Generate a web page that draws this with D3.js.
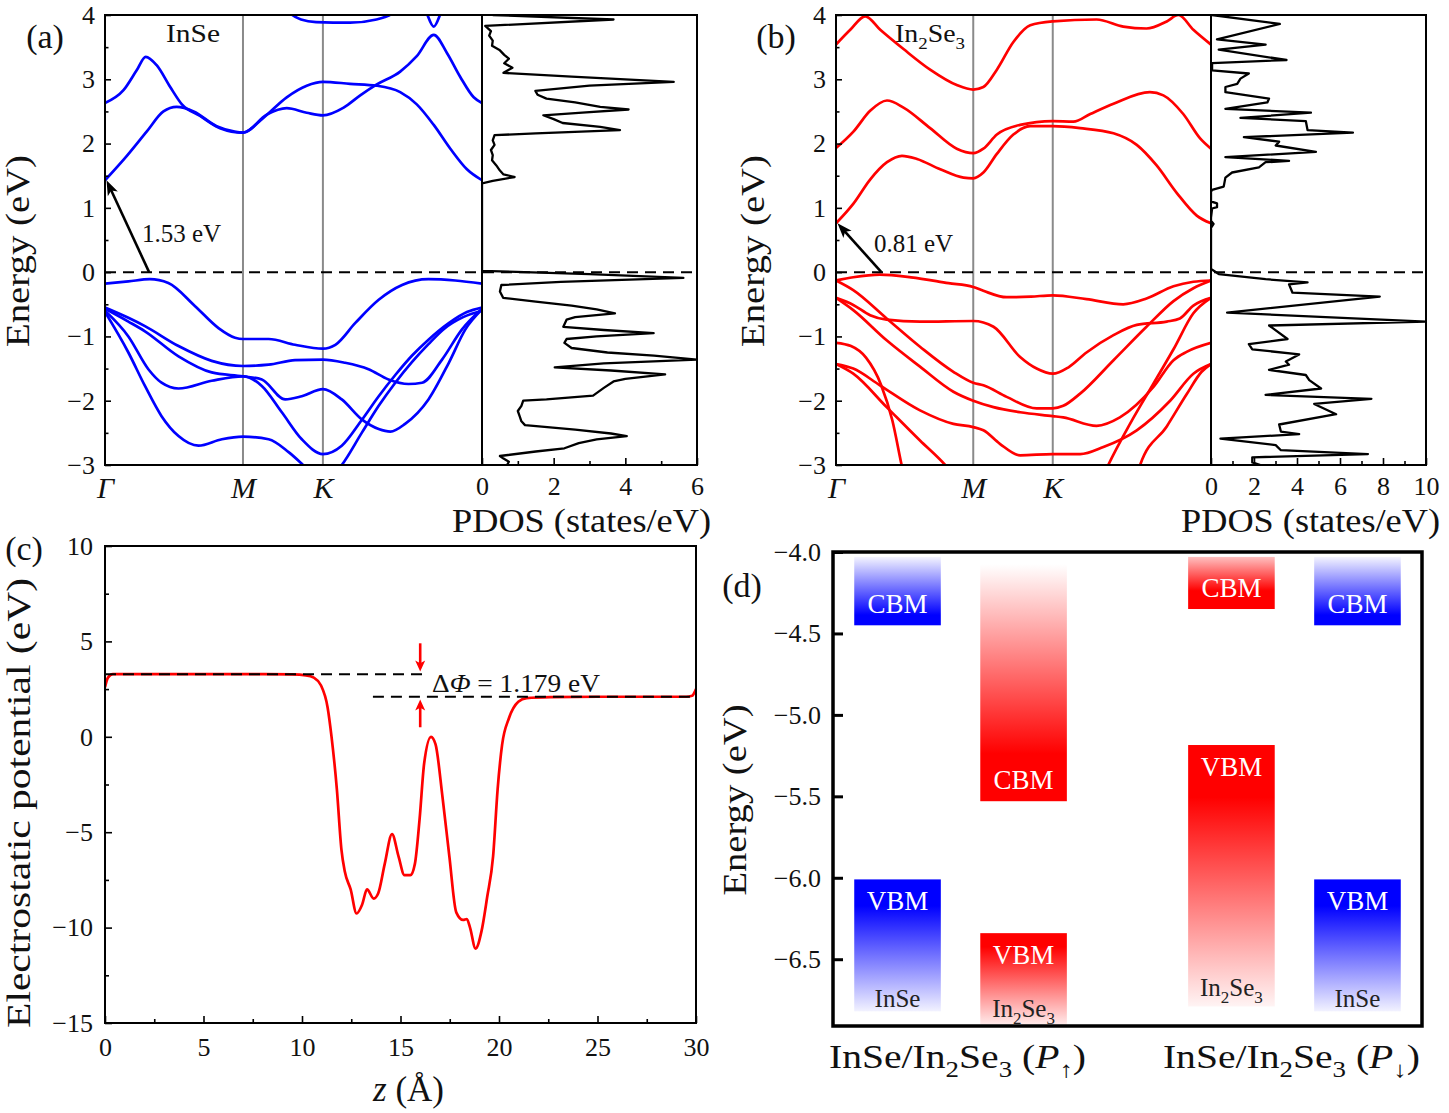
<!DOCTYPE html>
<html>
<head>
<meta charset="utf-8">
<script src="https://cdnjs.cloudflare.com/ajax/libs/d3/7.8.5/d3.min.js"></script>
<style>
  html,body{margin:0;padding:0;background:#fff;}
  svg{display:block;}
  text{font-family:"Liberation Serif","Times New Roman",serif;}
</style>
</head>
<body>
<svg id="fig" width="1449" height="1113" viewBox="0 0 1449 1113"></svg>
<script>
// ================= DATA =================
const kPoints = [0, 0.366, 0.578, 1];
const kLabels = ["Γ", "M", "K"];
const bandMajorTicks = [-3, -2, -1, 0, 1, 2, 3, 4];
const bandMinorTicks = [-2.5, -1.5, -0.5, 0.5, 1.5, 2.5, 3.5];

// InSe bands: [k, E]
const inseCB = [
  [[0,1.43],[0.058,1.81],[0.111,2.19],[0.155,2.5],[0.19,2.57],[0.235,2.5],[0.296,2.27],[0.341,2.19],[0.366,2.17],[0.42,2.4],[0.482,2.72],[0.535,2.9],[0.578,2.96],[0.65,2.93],[0.721,2.9],[0.783,2.8],[0.827,2.61],[0.872,2.29],[0.916,1.92],[0.96,1.6],[1,1.43]],
  [[0,2.63],[0.049,2.83],[0.084,3.14],[0.108,3.35],[0.137,3.22],[0.173,2.88],[0.204,2.61],[0.252,2.43],[0.305,2.24],[0.366,2.17],[0.429,2.45],[0.482,2.55],[0.535,2.48],[0.578,2.44],[0.633,2.56],[0.677,2.75],[0.721,2.92],[0.783,3.12],[0.827,3.36],[0.872,3.69],[0.907,3.41],[0.942,3.04],[0.978,2.72],[1,2.63]],
  [[0.47,4.15],[0.49,4.03],[0.52,3.93],[0.56,3.89],[0.65,3.88],[0.72,3.93],[0.77,4.05],[0.79,4.15]],
  [[0.835,4.3],[0.852,4.05],[0.872,3.82],[0.892,4.05],[0.91,4.3]]
];
const inseVB = [
  [[0,-0.18],[0.062,-0.145],[0.119,-0.11],[0.168,-0.17],[0.239,-0.53],[0.301,-0.87],[0.345,-1.02],[0.366,-1.04],[0.434,-1.04],[0.504,-1.13],[0.578,-1.19],[0.611,-1.13],[0.664,-0.79],[0.726,-0.43],[0.788,-0.2],[0.858,-0.11],[0.929,-0.13],[1,-0.18]],
  [[0,-0.55],[0.062,-0.71],[0.106,-0.84],[0.195,-1.15],[0.283,-1.38],[0.366,-1.46],[0.434,-1.44],[0.504,-1.37],[0.578,-1.36],[0.637,-1.41],[0.699,-1.51],[0.752,-1.67],[0.805,-1.74],[0.841,-1.72],[0.894,-1.36],[0.947,-0.89],[1,-0.57]],
  [[0,-0.57],[0.062,-0.77],[0.106,-0.92],[0.195,-1.31],[0.283,-1.56],[0.366,-1.62],[0.416,-1.67],[0.478,-1.98],[0.522,-1.93],[0.578,-1.82],[0.628,-1.98],[0.681,-2.29],[0.726,-2.44],[0.757,-2.48],[0.796,-2.36],[0.858,-1.98],[0.912,-1.41],[0.956,-0.89],[1,-0.58]],
  [[0,-0.6],[0.062,-1.0],[0.115,-1.51],[0.15,-1.72],[0.195,-1.81],[0.283,-1.69],[0.366,-1.62],[0.416,-1.77],[0.469,-2.18],[0.522,-2.6],[0.578,-2.83],[0.628,-2.7],[0.681,-2.3],[0.726,-1.93],[0.77,-1.6],[0.814,-1.3],[0.858,-1.05],[0.91,-0.8],[0.96,-0.62],[1,-0.55]],
  [[0,-0.62],[0.062,-1.25],[0.106,-1.77],[0.15,-2.24],[0.195,-2.55],[0.248,-2.7],[0.31,-2.6],[0.366,-2.56],[0.434,-2.6],[0.487,-2.8],[0.522,-2.98],[0.578,-3.3],[0.628,-3.0],[0.681,-2.5],[0.726,-2.08],[0.77,-1.72],[0.814,-1.4],[0.858,-1.12],[0.9,-0.88],[0.95,-0.7],[1,-0.6]]
];

// In2Se3 bands: [k, E]
const in2se3CB = [
  [[0,0.76],[0.047,1.07],[0.091,1.44],[0.136,1.71],[0.176,1.81],[0.216,1.76],[0.278,1.6],[0.34,1.47],[0.366,1.46],[0.393,1.55],[0.429,1.84],[0.473,2.14],[0.518,2.27],[0.578,2.27],[0.651,2.24],[0.74,2.16],[0.802,1.98],[0.855,1.66],[0.909,1.23],[0.962,0.88],[1,0.76]],
  [[0,1.93],[0.047,2.19],[0.091,2.51],[0.136,2.67],[0.18,2.56],[0.251,2.24],[0.322,1.92],[0.366,1.85],[0.393,1.92],[0.429,2.14],[0.491,2.29],[0.578,2.35],[0.633,2.34],[0.678,2.46],[0.74,2.62],[0.837,2.8],[0.873,2.75],[0.926,2.46],[0.971,2.08],[1,1.92]],
  [[0,3.54],[0.038,3.77],[0.078,3.98],[0.118,3.77],[0.18,3.47],[0.251,3.15],[0.322,2.91],[0.366,2.84],[0.393,2.88],[0.429,3.15],[0.473,3.58],[0.518,3.84],[0.578,3.9],[0.695,3.93],[0.766,3.82],[0.828,3.79],[0.882,3.9],[0.913,4.0],[0.953,3.77],[1,3.54]]
];
const in2se3VB = [
  [[0,-0.13],[0.046,-0.08],[0.117,-0.04],[0.2,-0.08],[0.3,-0.17],[0.366,-0.23],[0.393,-0.29],[0.455,-0.39],[0.52,-0.38],[0.578,-0.36],[0.668,-0.42],[0.766,-0.5],[0.828,-0.41],[0.9,-0.22],[0.953,-0.15],[1,-0.13]],
  [[0,-0.40],[0.046,-0.51],[0.091,-0.67],[0.135,-0.74],[0.224,-0.77],[0.366,-0.76],[0.42,-0.85],[0.491,-1.32],[0.535,-1.5],[0.578,-1.58],[0.62,-1.48],[0.668,-1.25],[0.74,-0.98],[0.802,-0.82],[0.882,-0.77],[0.917,-0.72],[0.953,-0.52],[1,-0.40]],
  [[0,-0.13],[0.046,-0.28],[0.135,-0.72],[0.224,-1.16],[0.313,-1.55],[0.366,-1.72],[0.393,-1.76],[0.455,-1.94],[0.535,-2.12],[0.578,-2.12],[0.606,-2.08],[0.651,-1.89],[0.74,-1.37],[0.828,-0.85],[0.9,-0.45],[0.953,-0.25],[1,-0.13]],
  [[0,-0.40],[0.046,-0.59],[0.135,-1.06],[0.224,-1.47],[0.313,-1.86],[0.366,-2.0],[0.42,-2.1],[0.491,-2.18],[0.578,-2.24],[0.606,-2.26],[0.695,-2.39],[0.757,-2.26],[0.846,-1.79],[0.9,-1.37],[0.935,-1.24],[1,-1.10]],
  [[0,-1.43],[0.046,-1.5],[0.117,-1.76],[0.224,-2.15],[0.313,-2.36],[0.366,-2.41],[0.393,-2.46],[0.437,-2.67],[0.491,-2.85],[0.578,-2.83],[0.651,-2.83],[0.713,-2.72],[0.802,-2.46],[0.891,-2.0],[0.953,-1.58],[1,-1.43]],
  [[0,-1.10],[0.04,-1.15],[0.08,-1.33],[0.12,-1.75],[0.15,-2.3],[0.175,-3.0],[0.19,-3.4]],
  [[0,-1.43],[0.046,-1.58],[0.135,-2.1],[0.224,-2.62],[0.291,-3.0],[0.32,-3.2]],
  [[0.71,-3.2],[0.726,-3.0],[0.784,-2.36],[0.846,-1.74],[0.9,-1.2],[0.953,-0.64],[1,-0.40]],
  [[0.8,-3.2],[0.811,-3.0],[0.882,-2.4],[0.935,-1.9],[0.975,-1.55],[1,-1.43]]
];

// PDOS: [E, states/eV]
const pdosInSe = [
  [4.0,0.3],[3.93,3.67],[3.83,0.09],[3.75,0.25],[3.68,0.2],[3.6,0.3],[3.52,0.28],[3.45,0.5],[3.38,0.62],[3.32,0.75],[3.25,0.62],[3.18,0.85],[3.1,0.6],[3.04,2.5],[2.96,5.35],[2.9,3.0],[2.82,1.49],[2.76,1.55],[2.7,1.8],[2.64,2.6],[2.57,3.3],[2.53,4.09],[2.48,2.8],[2.44,1.71],[2.38,2.0],[2.32,2.25],[2.26,3.3],[2.21,3.85],[2.16,1.5],[2.13,0.35],[2.05,0.3],[1.98,0.35],[1.9,0.25],[1.82,0.3],[1.74,0.28],[1.66,0.4],[1.58,0.5],[1.52,0.6],[1.48,0.91],[1.42,0.3],[1.38,0],[0.02,0],
  [-0.03,3.0],[-0.09,5.62],[-0.15,2.2],[-0.2,0.54],[-0.3,0.5],[-0.4,0.59],[-0.46,1.5],[-0.52,2.5],[-0.58,3.2],[-0.64,3.71],[-0.7,2.6],[-0.74,2.36],[-0.85,2.27],[-0.9,3.4],[-0.95,4.79],[-1.0,3.2],[-1.04,2.36],[-1.1,2.3],[-1.18,2.5],[-1.25,3.5],[-1.3,4.8],[-1.36,6.0],[-1.42,3.4],[-1.48,2.03],[-1.53,3.6],[-1.59,5.11],[-1.66,4.0],[-1.7,3.67],[-1.8,3.4],[-1.92,3.1],[-1.98,1.8],[-2.0,1.15],[-2.08,1.1],[-2.16,1.0],[-2.24,1.05],[-2.32,1.1],[-2.38,1.2],[-2.45,2.6],[-2.51,3.6],[-2.55,4.04],[-2.6,3.2],[-2.66,2.7],[-2.74,2.3],[-2.79,1.5],[-2.86,0.5],[-2.9,0.6],[-2.95,0.75],[-3.0,0.7]
];
const pdosIn2Se3 = [
  [4.0,0.05],[3.86,3.2],[3.62,0.28],[3.54,2.54],[3.46,0.36],[3.3,3.51],[3.25,0.05],[3.14,0.05],[3.09,1.76],[3.01,1.37],[2.93,1.22],[2.88,0.67],[2.8,0.67],[2.7,2.7],[2.64,2.62],[2.54,0.67],[2.48,4.65],[2.4,1.37],[2.35,4.41],[2.21,4.49],[2.17,6.6],[2.1,1.53],[2.03,3.17],[1.97,3.01],[1.87,4.88],[1.79,0.67],[1.73,3.63],[1.71,2.54],[1.63,2.23],[1.55,0.98],[1.47,0.67],[1.33,0.59],[1.28,0.05],[1.25,0],[1.1,0],[1.07,0.28],[1.01,0.28],[0.99,0.05],[0.85,0],[0.8,0],[0.75,0.12],[0.69,0],[0.05,0],
  [-0.03,0.36],[-0.11,2.54],[-0.16,4.49],[-0.19,3.63],[-0.32,3.79],[-0.38,7.85],[-0.63,0.75],[-0.77,10.03],[-0.83,2.7],[-1.04,3.56],[-1.12,1.76],[-1.2,1.92],[-1.28,4.1],[-1.39,3.48],[-1.44,3.63],[-1.52,2.7],[-1.6,4.41],[-1.68,4.57],[-1.81,5.12],[-1.91,2.54],[-1.97,7.46],[-2.05,4.8],[-2.21,5.82],[-2.37,3.17],[-2.48,3.25],[-2.52,4.1],[-2.59,0.44],[-2.69,3.01],[-2.77,3.25],[-2.83,7.3],[-2.88,1.92],[-2.96,1.92],[-3.0,2.3]
];
const pdosTicksInSe = [0, 2, 4, 6];
const pdosMinorInSe = [1, 3, 5];
const pdosTicksIn2Se3 = [0, 2, 4, 6, 8, 10];
const pdosMinorIn2Se3 = [1, 3, 5, 7, 9];
const gapInSe = 1.53, gapIn2Se3 = 0.81;

// Electrostatic potential
const potZ = [0,0.15,0.4,2,5,8,9.5,10.2,10.6,10.96,11.3,11.5,11.77,12.0,12.17,12.47,12.77,13.05,13.3,13.64,13.87,14.2,14.57,14.9,15.2,15.5,15.73,15.97,16.2,16.55,16.78,17.13,17.48,17.83,18.18,18.37,18.53,18.81,19.11,19.4,19.7,19.93,20.16,20.5,20.98,21.4,22.6,25,29.5,29.8,30];
const potV = [2.6,3.1,3.28,3.28,3.28,3.28,3.27,3.22,3.1,2.7,1.54,0,-2.75,-5.9,-7.05,-8.0,-9.26,-8.8,-8.0,-8.48,-8.2,-6.66,-5.1,-6.27,-7.25,-7.25,-6.66,-4.3,-1.4,0,-0.4,-3.14,-6.27,-9.2,-9.6,-9.55,-10.0,-11.1,-10.2,-8.4,-6.27,-2.75,-0.4,0.96,1.84,2.03,2.08,2.1,2.1,2.15,2.5];
const vacuumHigh = 3.28, vacuumLow = 2.10, deltaPhi = 1.179;
const potXTicks = [0, 5, 10, 15, 20, 25, 30];
const potXMinor = [2.5, 7.5, 12.5, 17.5, 22.5, 27.5];
const potYTicks = [-15, -10, -5, 0, 5, 10];
const potYMinor = [-12.5, -7.5, -2.5, 2.5, 7.5];

// Band alignment (eV)
const alignGroups = ["P↑", "P↓"];
const alignMaterial = ["InSe", "In2Se3", "In2Se3", "InSe"];
const alignGroup = ["P↑", "P↑", "P↓", "P↓"];
const cbmBoxTop = [-4.03, -4.075, -4.03, -4.03];
const cbmEnergy = [-4.45, -5.53, -4.35, -4.45];
const vbmEnergy = [-6.01, -6.34, -5.185, -6.01];
const vbmBoxBottom = [-6.82, -6.90, -6.79, -6.82];
const alignTicks = [-4.0, -4.5, -5.0, -5.5, -6.0, -6.5];

// ================= DRAWING =================
const FONT = '"Liberation Serif","Times New Roman",serif';
const svg = d3.select("#fig");
const defs = svg.append("defs");

function styleAxis(a, size, sw) {
  a.select(".domain").remove();
  a.attr("font-family", FONT);
  a.selectAll(".tick line").attr("stroke", "#000").attr("stroke-width", sw || 1.6);
  a.selectAll(".tick text").attr("font-size", size).attr("font-family", FONT).style("fill", "#111");
  return a;
}
function rich(parent, x, y, segs, size, opts) {
  opts = opts || {};
  const t = parent.append("text").attr("x", x).attr("y", y).attr("font-size", size)
    .attr("text-anchor", opts.anchor || "middle").style("fill", opts.fill || "#111");
  if (opts.transform) t.attr("transform", opts.transform);
  let shift = 0;
  segs.forEach(s => {
    const ts = t.append("tspan").text(s.t);
    const target = s.sub ? size * 0.28 : 0;
    if (target !== shift) { ts.attr("dy", target - shift); shift = target; }
    if (s.sub) ts.attr("font-size", size * 0.68);
    if (s.it) ts.attr("font-style", "italic");
  });
  if (opts.len) t.attr("textLength", opts.len).attr("lengthAdjust", "spacingAndGlyphs");
  return t;
}
function arrow(parent, x1, y1, x2, y2, color, hl, hw, sw) {
  const dx = x2 - x1, dy = y2 - y1, L = Math.hypot(dx, dy);
  const ux = dx / L, uy = dy / L, nx = -uy, ny = ux;
  const bx = x2 - ux * hl, by = y2 - uy * hl;
  parent.append("line").attr("x1", x1).attr("y1", y1)
    .attr("x2", x2 - ux * hl * 0.7).attr("y2", y2 - uy * hl * 0.7)
    .attr("stroke", color).attr("stroke-width", sw);
  const nxp = x2 - ux * hl * 0.75, nyp = y2 - uy * hl * 0.75;
  parent.append("path")
    .attr("d", `M${x2},${y2}L${bx + nx * hw / 2},${by + ny * hw / 2}L${nxp},${nyp}L${bx - nx * hw / 2},${by - ny * hw / 2}Z`)
    .attr("fill", color);
}
const inSe = [{t: "InSe"}];
const in2Se3 = [{t: "In"}, {t: "2", sub: 1}, {t: "Se"}, {t: "3", sub: 1}];

function bandPanel(cfg) {
  const top = 15, bottom = 465;
  const x = d3.scaleLinear().domain([0, 1]).range([cfg.x0, cfg.x1]);
  const y = d3.scaleLinear().domain([-3, 4]).range([bottom, top]);
  const p = d3.scaleLinear().domain([0, cfg.pmax]).range([cfg.x1, cfg.x2]);
  const g = svg.append("g");
  defs.append("clipPath").attr("id", "cb" + cfg.id).append("rect")
    .attr("x", cfg.x0).attr("y", top).attr("width", cfg.x1 - cfg.x0).attr("height", bottom - top);
  defs.append("clipPath").attr("id", "cp" + cfg.id).append("rect")
    .attr("x", cfg.x1).attr("y", top).attr("width", cfg.x2 - cfg.x1).attr("height", bottom - top);

  g.selectAll("line.hs").data(kPoints.slice(1, 3)).join("line").attr("class", "hs")
    .attr("x1", d => x(d)).attr("x2", d => x(d)).attr("y1", y(4)).attr("y2", y(-3))
    .attr("stroke", "#8a8a8a").attr("stroke-width", 2);

  const line = d3.line().x(d => x(d[0])).y(d => y(d[1])).curve(d3.curveMonotoneX);
  g.append("g").attr("clip-path", `url(#cb${cfg.id})`)
    .selectAll("path").data(cfg.bands).join("path")
    .attr("d", line).attr("fill", "none").attr("stroke", cfg.color)
    .attr("stroke-width", 2.7).attr("stroke-linecap", "round");

  const pl = d3.line().x(d => p(d[1])).y(d => y(d[0]));
  g.append("path").attr("clip-path", `url(#cp${cfg.id})`).datum(cfg.pdos)
    .attr("d", pl).attr("fill", "none").attr("stroke", "#000")
    .attr("stroke-width", 2.3).attr("stroke-linejoin", "round");

  g.append("line").attr("x1", x(0)).attr("x2", p(cfg.pmax)).attr("y1", y(0)).attr("y2", y(0))
    .attr("stroke", "#000").attr("stroke-width", 2).attr("stroke-dasharray", "11,7");

  g.append("rect").attr("x", cfg.x0).attr("y", top).attr("width", cfg.x1 - cfg.x0).attr("height", bottom - top)
    .attr("fill", "none").attr("stroke", "#000").attr("stroke-width", 2);
  g.append("rect").attr("x", cfg.x1).attr("y", top).attr("width", cfg.x2 - cfg.x1).attr("height", bottom - top)
    .attr("fill", "none").attr("stroke", "#000").attr("stroke-width", 2);

  styleAxis(g.append("g").attr("transform", `translate(${cfg.x0},0)`)
    .call(d3.axisLeft(y).tickValues(bandMajorTicks).tickSize(-6).tickPadding(10).tickFormat(d3.format("d"))), 26);
  styleAxis(g.append("g").attr("transform", `translate(${cfg.x0},0)`)
    .call(d3.axisLeft(y).tickValues(bandMinorTicks).tickSize(-3.5).tickFormat(() => "")), 26);

  const kx = styleAxis(g.append("g").attr("transform", `translate(0,${bottom})`)
    .call(d3.axisBottom(x).tickValues(kPoints.slice(0, 3)).tickSize(0).tickPadding(12).tickFormat((d, i) => kLabels[i])), 30);
  kx.selectAll(".tick text").attr("font-style", "italic");

  styleAxis(g.append("g").attr("transform", `translate(0,${bottom})`)
    .call(d3.axisBottom(p).tickValues(cfg.pTicks).tickSize(-7).tickPadding(12).tickFormat(d3.format("d"))), 26);
  styleAxis(g.append("g").attr("transform", `translate(0,${bottom})`)
    .call(d3.axisBottom(p).tickValues(cfg.pMinor).tickSize(-4).tickFormat(() => "")), 26);

  rich(g, 0, 0, [{t: "Energy (eV)"}], 34, {transform: `translate(${cfg.x0 - cfg.ylabDx},251) rotate(-90)`, len: 192});
  rich(g, (cfg.x1 + cfg.x2) / 2 - 8, 532, [{t: "PDOS (states/eV)"}], 34, {len: 259});
  rich(g, cfg.x0 - 60, 48, [{t: cfg.panel}], 34);
  rich(g, cfg.x0 + cfg.matDx, 42, cfg.mat, 26, {len: cfg.matLen});

  // gap arrow from VBM to CBM at Γ
  arrow(g, x(cfg.arrowK), y(0), x(0.004), y(cfg.cbm), "#000", 15, 11, 2.6);
  rich(g, x(0) + cfg.gapDx, cfg.gapY, [{t: d3.format(".2f")(cfg.gap) + " eV"}], 25, {anchor: "start"});
}

bandPanel({id: "a", x0: 105, x1: 482, x2: 697, pmax: 6, bands: inseCB.concat(inseVB), color: "#0000ff",
  pdos: pdosInSe, pTicks: pdosTicksInSe, pMinor: pdosMinorInSe, panel: "(a)", mat: inSe, matDx: 88, matLen: 54,
  arrowK: 0.117, cbm: 1.43, gap: gapInSe, gapDx: 37, gapY: 242, ylabDx: 76});
bandPanel({id: "b", x0: 836, x1: 1211, x2: 1426, pmax: 10, bands: in2se3CB.concat(in2se3VB), color: "#ff0000",
  pdos: pdosIn2Se3, pTicks: pdosTicksIn2Se3, pMinor: pdosMinorIn2Se3, panel: "(b)", mat: in2Se3, matDx: 94, matLen: 70,
  arrowK: 0.121, cbm: 0.76, gap: gapIn2Se3, gapDx: 38, gapY: 252, ylabDx: 72});

// ---------- panel (c) ----------
(function () {
  const L = 105, R = 696, T = 546, B = 1023;
  const x = d3.scaleLinear().domain([0, 30]).range([L, R]);
  const y = d3.scaleLinear().domain([-15, 10]).range([B, T]);
  const g = svg.append("g");
  defs.append("clipPath").attr("id", "cc").append("rect").attr("x", L).attr("y", T).attr("width", R - L).attr("height", B - T);
  const pts = potZ.map((z, i) => [z, potV[i]]);
  g.append("path").attr("clip-path", "url(#cc)").datum(pts)
    .attr("d", d3.line().x(d => x(d[0])).y(d => y(d[1])).curve(d3.curveMonotoneX))
    .attr("fill", "none").attr("stroke", "#ff0000").attr("stroke-width", 2.7);
  g.append("line").attr("x1", x(0)).attr("x2", x(16.3)).attr("y1", y(vacuumHigh)).attr("y2", y(vacuumHigh))
    .attr("stroke", "#000").attr("stroke-width", 2).attr("stroke-dasharray", "11,7");
  g.append("line").attr("x1", x(13.6)).attr("x2", x(30)).attr("y1", y(vacuumLow)).attr("y2", y(vacuumLow))
    .attr("stroke", "#000").attr("stroke-width", 2).attr("stroke-dasharray", "11,7");
  g.append("rect").attr("x", L).attr("y", T).attr("width", R - L).attr("height", B - T)
    .attr("fill", "none").attr("stroke", "#000").attr("stroke-width", 2);

  styleAxis(g.append("g").attr("transform", `translate(0,${B})`)
    .call(d3.axisBottom(x).tickValues(potXTicks).tickSize(-7).tickPadding(15).tickFormat(d3.format("d"))), 26);
  styleAxis(g.append("g").attr("transform", `translate(0,${B})`)
    .call(d3.axisBottom(x).tickValues(potXMinor).tickSize(-4).tickFormat(() => "")), 26);
  styleAxis(g.append("g").attr("transform", `translate(${L},0)`)
    .call(d3.axisLeft(y).tickValues(potYTicks).tickSize(-7).tickPadding(12).tickFormat(d3.format("d"))), 26);
  styleAxis(g.append("g").attr("transform", `translate(${L},0)`)
    .call(d3.axisLeft(y).tickValues(potYMinor).tickSize(-4).tickFormat(() => "")), 26);

  arrow(g, x(16), y(4.9), x(16), y(3.42), "#ff0000", 11, 10, 2.6);
  arrow(g, x(16), y(0.5), x(16), y(1.96), "#ff0000", 11, 10, 2.6);
  rich(g, x(16.6), y(2.35), [{t: "Δ"}, {t: "Φ", it: 1}, {t: " = " + deltaPhi + " eV"}], 26, {anchor: "start", len: 168});

  rich(g, 0, 0, [{t: "Electrostatic potential (eV)"}], 34, {transform: `translate(30,803) rotate(-90)`, len: 450});
  rich(g, (L + R) / 2 + 8, 1101, [{t: "z", it: 1}, {t: " (Å)"}], 35);
  rich(g, 24, 560, [{t: "(c)"}], 34);
})();

// ---------- panel (d) ----------
(function () {
  const L = 833, R = 1422, T = 552, B = 1026;
  const y = d3.scaleLinear().domain([-6.91, -4.0]).range([B, T]);
  const gx = d3.scalePoint().domain(alignGroups).range([L, R]).padding(0.382);
  const span = (R - L) * 0.1805;
  const g = svg.append("g");
  const colors = {InSe: "#0000ff", In2Se3: "#ff0000"};

  alignMaterial.forEach((m, i) => {
    const c = gx(alignGroup[i]);
    const inner = d3.scaleBand().domain([0, 1]).range([c - span, c + span]).paddingInner(0.313);
    const idx = alignGroup[i] === "P↑" ? (m === "InSe" ? 0 : 1) : (m === "InSe" ? 1 : 0);
    const bx = inner(idx), bw = inner.bandwidth();
    const col = colors[m];
    const down = alignGroup[i] === "P↓";
    const gc = defs.append("linearGradient").attr("id", "gc" + i).attr("x1", 0).attr("y1", 0).attr("x2", 0).attr("y2", 1);
    const cbStops = (m === "In2Se3" && down) ? [[0, "#ffc0c0"], [0.65, col], [1, col]]
      : (m === "In2Se3" ? [[0, "#ffffff"], [0.8, col], [1, col]] : [[0, "#f4f4ff"], [0.85, col], [1, col]]);
    cbStops.forEach(s => gc.append("stop").attr("offset", s[0]).attr("stop-color", s[1]));
    const gv = defs.append("linearGradient").attr("id", "gv" + i).attr("x1", 0).attr("y1", 0).attr("x2", 0).attr("y2", 1);
    const vbStops = m === "InSe" ? [[0, col], [0.2, col], [1, "#f2f2ff"]]
      : (down ? [[0, col], [0.2, col], [1, "#fff4f4"]] : [[0, col], [0.15, col], [1, "#ffeaea"]]);
    vbStops.forEach(s => gv.append("stop").attr("offset", s[0]).attr("stop-color", s[1]));

    g.append("rect").attr("x", bx).attr("width", bw).attr("y", y(cbmBoxTop[i])).attr("height", y(cbmEnergy[i]) - y(cbmBoxTop[i]))
      .attr("fill", `url(#gc${i})`);
    g.append("rect").attr("x", bx).attr("width", bw).attr("y", y(vbmEnergy[i])).attr("height", y(vbmBoxBottom[i]) - y(vbmEnergy[i]))
      .attr("fill", `url(#gv${i})`);
    rich(g, bx + bw / 2, y(cbmEnergy[i]) - 12, [{t: "CBM"}], 27, {fill: "#ffffff"});
    rich(g, bx + bw / 2, y(vbmEnergy[i]) + 31, [{t: "VBM"}], 27, {fill: "#ffffff"});
    rich(g, bx + bw / 2, y(vbmBoxBottom[i]) - (m === "InSe" ? 4 : (down ? 10 : 7)), m === "InSe" ? inSe : in2Se3, 25, {fill: "#222"});
  });

  g.append("rect").attr("x", L).attr("y", T).attr("width", R - L).attr("height", B - T)
    .attr("fill", "none").attr("stroke", "#000").attr("stroke-width", 3.5);
  styleAxis(g.append("g").attr("transform", `translate(${L},0)`)
    .call(d3.axisLeft(y).tickValues(alignTicks).tickSize(-10).tickPadding(12).tickFormat(d3.format(".1f"))), 26, 3);

  alignGroups.forEach(grp => {
    rich(g, gx(grp) - 3, 1068, [{t: "InSe/In"}, {t: "2", sub: 1}, {t: "Se"}, {t: "3", sub: 1}, {t: " ("}, {t: "P", it: 1}, {t: grp === "P↑" ? "↑" : "↓", sub: 1}, {t: ")"}], 33, {len: 257});
  });
  rich(g, 0, 0, [{t: "Energy (eV)"}], 34, {transform: `translate(746,800) rotate(-90)`, len: 191});
  rich(g, 742, 597, [{t: "(d)"}], 34);
})();
</script>
</body>
</html>
